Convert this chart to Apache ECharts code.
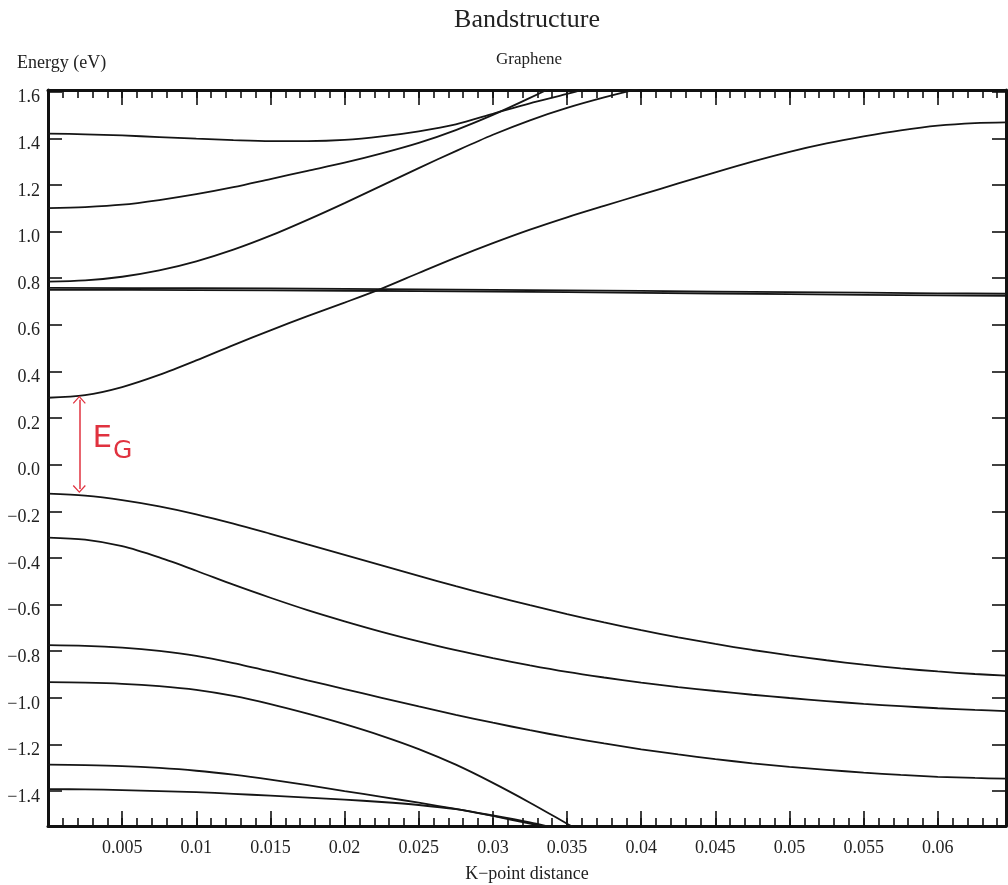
<!DOCTYPE html>
<html>
<head>
<meta charset="utf-8">
<title>Bandstructure</title>
<script src="https://cdn.jsdelivr.net/npm/echarts@6/dist/echarts.min.js"></script>
<style>
  html, body { margin: 0; padding: 0; background: #fff; }
  #chart { width: 1008px; height: 885px; }
</style>
</head>
<body>
<div id="chart"></div>
<script>
// k-point distances along the path
const kPoints = [0, 0.0025, 0.005, 0.0075, 0.01, 0.0125, 0.015, 0.0175, 0.02, 0.0225,
  0.025, 0.0275, 0.03, 0.0325, 0.035, 0.0375, 0.04, 0.0425, 0.045, 0.0475,
  0.05, 0.0525, 0.055, 0.0575, 0.06, 0.0625, 0.0646];

// conduction bands (eV); shorter lists leave the window early
const bandC1 = [0.287, 0.298, 0.333, 0.385, 0.447, 0.513, 0.576, 0.637, 0.695, 0.755,
  0.822, 0.888, 0.95, 1.008, 1.061, 1.11, 1.158, 1.206, 1.254, 1.30,
  1.342, 1.378, 1.408, 1.434, 1.454, 1.465, 1.468];
const bandC2 = [0.785, 0.79, 0.806, 0.833, 0.872, 0.922, 0.982, 1.05, 1.122, 1.197,
  1.272, 1.345, 1.415, 1.477, 1.53, 1.575, 1.615, 1.65];
const bandC3 = [1.10, 1.105, 1.115, 1.135, 1.16, 1.19, 1.225, 1.26, 1.295, 1.335,
  1.38, 1.435, 1.50, 1.573, 1.65];
const bandC4 = [1.42, 1.417, 1.412, 1.405, 1.398, 1.392, 1.388, 1.388, 1.393, 1.408,
  1.43, 1.46, 1.505, 1.55, 1.59, 1.635];

// the two nearly degenerate flat bands
const flatK = [0, 0.01, 0.02, 0.03, 0.04, 0.05, 0.06, 0.0646];
const bandF1 = [0.758, 0.757, 0.754, 0.75, 0.745, 0.74, 0.735, 0.733];
const bandF2 = [0.750, 0.749, 0.746, 0.742, 0.737, 0.731, 0.726, 0.724];

// valence bands (eV)
const bandV1 = [-0.124, -0.133, -0.152, -0.179, -0.213, -0.253, -0.297, -0.342, -0.387, -0.432,
  -0.477, -0.521, -0.563, -0.603, -0.641, -0.677, -0.71, -0.741, -0.769, -0.795,
  -0.818, -0.839, -0.858, -0.874, -0.887, -0.898, -0.905];
const bandV2 = [-0.313, -0.322, -0.35, -0.398, -0.455, -0.515, -0.571, -0.624, -0.672, -0.717,
  -0.758, -0.796, -0.83, -0.861, -0.889, -0.913, -0.935, -0.954, -0.971, -0.987,
  -1.001, -1.014, -1.026, -1.036, -1.045, -1.052, -1.057];
const bandV3 = [-0.774, -0.777, -0.785, -0.799, -0.82, -0.851, -0.887, -0.925, -0.963, -1.0,
  -1.037, -1.073, -1.107, -1.139, -1.169, -1.196, -1.221, -1.243, -1.263, -1.281,
  -1.296, -1.309, -1.321, -1.331, -1.339, -1.344, -1.347];
const bandV4 = [-0.933, -0.935, -0.94, -0.95, -0.966, -0.992, -1.027, -1.068, -1.113, -1.163,
  -1.22, -1.287, -1.365, -1.45, -1.54, -1.63];
const bandV5 = [-1.287, -1.289, -1.293, -1.301, -1.313, -1.33, -1.351, -1.375, -1.4, -1.425,
  -1.45, -1.477, -1.507, -1.54, -1.575];
const bandV6 = [-1.392, -1.393, -1.396, -1.40, -1.405, -1.412, -1.42, -1.428, -1.437, -1.447,
  -1.46, -1.478, -1.505, -1.535, -1.57, -1.6];

// axis ticks
const xTickLabels = ['0.005', '0.01', '0.015', '0.02', '0.025', '0.03', '0.035',
  '0.04', '0.045', '0.05', '0.055', '0.06'];
const yTickLabels = ['−1.4', '−1.2', '−1.0', '−0.8', '−0.6', '−0.4', '−0.2',
  '0.0', '0.2', '0.4', '0.6', '0.8', '1.0', '1.2', '1.4', '1.6'];

// band-gap marker: arrow between the band edges at this k
const gapTop = 0.278;
const gapBottom = -0.105;
const gapK = 0.00211;

const X_MIN = 0, X_MAX = 0.0646, Y_MIN = -1.55, Y_MAX = 1.607;

const xTickValues = xTickLabels.map(Number);
const yTickValues = yTickLabels.map(s => Number(s.replace('−', '-')));
const xMinorValues = [];
for (let i = 1; i <= 64; i++) xMinorValues.push(Number((i * 0.001).toFixed(3)));

const FRAME = '#111';
const SERIF = '"Liberation Serif", "DejaVu Serif", serif';
const RED = '#e0323f';

function pairs(ks, vals) {
  return vals.map((v, i) => [ks[i], v]);
}

function bandSeries(name, ks, vals) {
  return {
    name: name,
    type: 'line',
    data: pairs(ks, vals),
    smooth: 0.3,
    symbol: 'none',
    clip: true,
    lineStyle: { color: '#151515', width: 1.8 },
    silent: true,
    z: 3
  };
}

function xAxisCfg(position, major, showLabels) {
  return {
    type: 'value',
    position: position,
    min: X_MIN,
    max: X_MAX,
    axisLine: { show: major, onZero: false, lineStyle: { color: FRAME, width: 3 } },
    axisTick: {
      show: true,
      inside: true,
      length: major ? 15 : 8,
      customValues: major ? xTickValues : xMinorValues,
      lineStyle: { color: FRAME, width: 1.6 }
    },
    axisLabel: {
      show: showLabels,
      customValues: xTickValues,
      margin: 13,
      fontFamily: SERIF,
      fontSize: 18,
      color: '#222',
      formatter: v => {
        const i = xTickValues.indexOf(v);
        return i >= 0 ? xTickLabels[i] : '';
      }
    },
    splitLine: { show: false }
  };
}

function yAxisCfg(position, showLabels) {
  return {
    type: 'value',
    position: position,
    min: Y_MIN,
    max: Y_MAX,
    axisLine: { show: true, onZero: false, lineStyle: { color: FRAME, width: 3 } },
    axisTick: {
      show: true,
      inside: true,
      length: 14,
      customValues: yTickValues,
      lineStyle: { color: FRAME, width: 1.6 }
    },
    axisLabel: {
      show: showLabels,
      customValues: yTickValues,
      margin: 8,
      verticalAlign: 'top',
      lineHeight: 12,
      fontFamily: SERIF,
      fontSize: 18,
      color: '#222',
      formatter: v => {
        const i = yTickValues.findIndex(t => Math.abs(t - v) < 1e-9);
        return i >= 0 ? yTickLabels[i] : '';
      }
    },
    splitLine: { show: false }
  };
}

const chart = echarts.init(document.getElementById('chart'), null, { renderer: 'canvas' });

const series = [
  bandSeries('C1', kPoints, bandC1),
  bandSeries('C2', kPoints, bandC2),
  bandSeries('C3', kPoints, bandC3),
  bandSeries('C4', kPoints, bandC4),
  bandSeries('F1', flatK, bandF1),
  bandSeries('F2', flatK, bandF2),
  bandSeries('V1', kPoints, bandV1),
  bandSeries('V2', kPoints, bandV2),
  bandSeries('V3', kPoints, bandV3),
  bandSeries('V4', kPoints, bandV4),
  bandSeries('V5', kPoints, bandV5),
  bandSeries('V6', kPoints, bandV6)
];

// red double arrow and E_G label across the gap
const chevron = 'path://M0,0 L7,8 L6,9 L0,2 L-6,9 L-7,8 Z';
series.push({
  name: 'gap',
  type: 'line',
  data: [],
  silent: true,
  markLine: {
    silent: true,
    symbol: [chevron, chevron],
    symbolSize: [13, 8],
    label: { show: false },
    lineStyle: { color: RED, width: 1.5, type: 'solid' },
    data: [[{ coord: [gapK, gapTop] }, { coord: [gapK, gapBottom] }]]
  },
  markPoint: {
    silent: true,
    symbol: 'circle',
    symbolSize: 0,
    data: [{ coord: [0.003, 0.112] }],
    label: {
      show: true,
      position: 'right',
      distance: 0,
      formatter: '{e|E}{g|G}',
      rich: {
        e: { fontFamily: '"DejaVu Sans", sans-serif', fontSize: 31, color: RED },
        g: { fontFamily: '"DejaVu Sans", sans-serif', fontSize: 25, color: RED, padding: [25, 0, 0, 1] }
      }
    }
  }
});

chart.setOption({
  animation: false,
  backgroundColor: '#fff',
  grid: { left: 48, right: 2, top: 90, bottom: 59, containLabel: false },
  xAxis: [
    xAxisCfg('bottom', true, true),
    xAxisCfg('bottom', false, false),
    xAxisCfg('top', true, false),
    xAxisCfg('top', false, false)
  ],
  yAxis: [
    yAxisCfg('left', true),
    yAxisCfg('right', false)
  ],
  graphic: [
    { type: 'text', x: 527, y: 20, style: { text: 'Bandstructure', font: '26px ' + SERIF, fill: '#222', align: 'center', verticalAlign: 'middle' } },
    { type: 'text', x: 529, y: 60, style: { text: 'Graphene', font: '17px ' + SERIF, fill: '#222', align: 'center', verticalAlign: 'middle' } },
    { type: 'text', x: 17, y: 63, style: { text: 'Energy (eV)', font: '18px ' + SERIF, fill: '#222', align: 'left', verticalAlign: 'middle' } },
    { type: 'text', x: 527, y: 874, style: { text: 'K−point distance', font: '18px ' + SERIF, fill: '#222', align: 'center', verticalAlign: 'middle' } }
  ],
  series: series
});
</script>
</body>
</html>
